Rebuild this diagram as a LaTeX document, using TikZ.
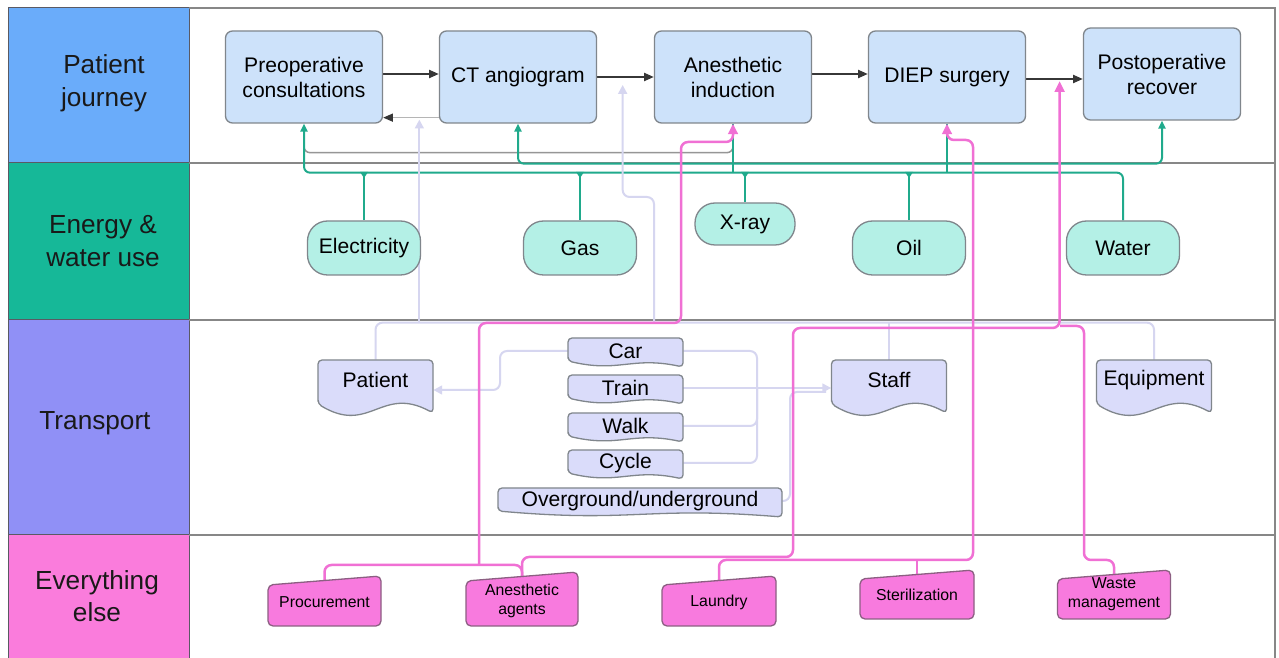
\documentclass[tikz,border=0pt]{standalone}
\usepackage{fontspec}
\setmainfont{Liberation Sans}
\usetikzlibrary{arrows.meta,calc}
\newdimen\pxu \pxu=0.02cm
\pgfdeclarelayer{back}\pgfdeclarelayer{lines}
\pgfsetlayers{back,lines,main}
\definecolor{pjc}{RGB}{106,172,250}
\definecolor{enc}{RGB}{22,184,152}
\definecolor{trc}{RGB}{144,144,246}
\definecolor{eec}{RGB}{250,124,220}
\definecolor{jfill}{RGB}{205,226,250}
\definecolor{efill}{RGB}{180,240,230}
\definecolor{tfill}{RGB}{218,220,250}
\definecolor{pfill}{RGB}{248,122,222}
\definecolor{boxborder}{RGB}{128,134,140}
\definecolor{pborder}{RGB}{140,95,130}
\definecolor{tealline}{RGB}{32,170,140}
\definecolor{pinkline}{RGB}{240,112,212}
\definecolor{lavline}{RGB}{214,214,240}
\definecolor{grayline}{RGB}{150,150,150}
\definecolor{darkline}{RGB}{55,55,55}
\definecolor{rowline}{RGB}{135,135,135}
\definecolor{cellborder}{RGB}{90,90,100}
\newcommand\mylabfont{\fontsize{14.9}{18.5}\selectfont}
\newcommand\mynodefont{\fontsize{12}{14.2}\selectfont}
\newcommand\mypinkfont{\fontsize{9}{10.8}\selectfont}
\tikzset{
  cellbox/.style={draw=cellborder, line width=1\pxu},
  lab/.style={font=\mylabfont, align=center, text=black!90, inner sep=0pt},
  journey/.style={draw=boxborder, fill=jfill, rounded corners=7\pxu, line width=1.3\pxu,
    minimum width=157\pxu, minimum height=92\pxu, align=center, font=\mynodefont, inner sep=0pt},
  energy/.style={draw=boxborder, fill=efill, rounded corners=20\pxu, line width=1.3\pxu,
    minimum width=113\pxu, minimum height=54\pxu, font=\mynodefont, inner sep=0pt},
  docshape/.style={draw=boxborder, fill=tfill, line width=1.3\pxu, rounded corners=4\pxu},
  doctext/.style={inner sep=0pt, font=\mynodefont},
  pinkshape/.style={draw=pborder, fill=pfill, line width=1.3\pxu, rounded corners=5\pxu},
  pinktext/.style={inner sep=0pt, align=center, font=\mypinkfont},
  tl/.style={draw=tealline, line width=2\pxu, rounded corners=6\pxu},
  pl/.style={draw=pinkline, line width=2.5\pxu, rounded corners=7\pxu},
  lv/.style={draw=lavline, line width=2\pxu, rounded corners=7\pxu},
  gl/.style={draw=grayline, line width=1.5\pxu, rounded corners=6\pxu},
  ttip/.tip={Triangle[length=4.5pt,width=4pt,color=tealline]},
  ptip/.tip={Triangle[length=6pt,width=5.5pt,color=pinkline]},
  ltip/.tip={Triangle[length=5pt,width=5pt,color=lavline]},
  dtip/.tip={Triangle[length=5.5pt,width=4.5pt,color=darkline]},
  flow/.style={draw=darkline, line width=2\pxu, -dtip},
  row/.style={draw=rowline, line width=2\pxu},
}
\newcommand\bigdoc[4]{%
  \path[docshape] ({#2-57.5},{#3+24}) -- ({#2-57.5},{#3-20}) -- ({#2+57.5},{#3-20}) -- ({#2+57.5},{#3+33})
     .. controls ({#2+6},{#3+5}) and ({#2-6},{#3+55}) .. ({#2-57.5},{#3+24}) -- cycle;
  \node[doctext, minimum width=115\pxu, minimum height=40\pxu] (#1) at (#2,#3) {#4};}
\newcommand\modedoc[5]{%
  \path[docshape] ({#2-#4/2},{#3+10}) -- ({#2-#4/2},{#3-13}) -- ({#2+#4/2},{#3-13}) -- ({#2+#4/2},{#3+16})
     .. controls ({#2+6},{#3+5}) and ({#2-6},{#3+22}) .. ({#2-#4/2},{#3+10}) -- cycle;
  \node[doctext, minimum width=#4\pxu, minimum height=26\pxu] (#1) at (#2,#3) {#5};}
% name, cx, cy, w, top(right), bottom, text
\newcommand\pinknode[7]{%
  \path[pinkshape] ({#2-#4/2},{#5+9}) -- ({#2+#4/2},{#5}) -- ({#2+#4/2},{#6}) -- ({#2-#4/2},{#6}) -- cycle;
  \node[pinktext, minimum width=#4\pxu, minimum height={2*(#3-#5-5)*\pxu}] (#1) at (#2,#3) {#7};}
\begin{document}
\begin{tikzpicture}[x=0.02cm, y=-0.02cm]
\useasboundingbox (0,0) rectangle (1279,658);
\begin{pgfonlayer}{back}
  \fill[white] (0,0) rectangle (1279,658);
  \path[fill=pjc, cellbox] (8,8) rectangle (189,163);
  \path[fill=enc, cellbox] (8,163) rectangle (189,320);
  \path[fill=trc, cellbox] (8,320) rectangle (189,535);
  \path[fill=eec, cellbox] (8,535) rectangle (189,662);
  \draw[row] (189,8) -- (1275,8) -- (1275,662);
  \draw[row] (189,163) -- (1275,163);
  \draw[row] (189,320) -- (1275,320);
  \draw[row] (189,535) -- (1275,535);
\end{pgfonlayer}
% row labels
\node[lab] (labA) at (104,83) {Patient\\journey};
\node[lab] (labB) at (103,241) {Energy \&\\water use};
\node[lab] (labC) at (95,423) {Transport};
\node[lab] (labD) at (97,596) {Everything\\else};
% patient journey
\node[journey] (preop) at (304,77) {Preoperative\\consultations};
\node[journey] (ct) at (518,77) {CT angiogram};
\node[journey] (anes) at (733,77) {Anesthetic\\induction};
\node[journey] (diep) at (947,77) {DIEP surgery};
\node[journey] (postop) at (1162,74) {Postoperative\\recover};
% energy
\node[energy] (elec) at (364,248) {Electricity};
\node[energy] (gas) at (580,248) {Gas};
\node[energy, minimum width=100\pxu, minimum height=42\pxu] (xray) at (745,224) {X-ray};
\node[energy] (oil) at (909,248) {Oil};
\node[energy] (water) at (1123,248) {Water};
% transport
\bigdoc{patient}{375.5}{380}{Patient}
\bigdoc{staff}{889}{380}{Staff}
\bigdoc{equip}{1154}{380}{Equipment}
\modedoc{car}{625.5}{351}{115}{Car}
\modedoc{train}{625.5}{388}{115}{Train}
\modedoc{walk}{625.5}{426}{115}{Walk}
\modedoc{cycle}{625.5}{463}{115}{Cycle}
\modedoc{over}{640}{501}{284}{Overground/underground}
% everything else
\pinknode{proc}{324.5}{602}{113}{576}{626}{Procurement}
\pinknode{agents}{522}{601}{112}{572}{626}{Anesthetic\\agents}
\pinknode{laundry}{719}{602}{114}{576}{626}{Laundry}
\pinknode{steril}{917}{595}{114}{570}{619}{Sterilization}
\pinknode{waste}{1114}{594}{113}{570}{619}{Waste\\management}
\coordinate (busL) at (0,172);
\coordinate (busT) at (0,323);
\begin{pgfonlayer}{lines}
  % gray link
  \draw[gl] ([yshift=-17\pxu]preop.south) |- ([yshift=-29\pxu]anes.south) -- ([yshift=-17\pxu]anes.south);
  % teal
  \draw[tl, ttip-] (preop.south) -- ++(0,49) -| (water.north);
  \draw[tl, ttip-ttip] (ct.south) -- ++(0,40) -| (postop.south);
  \foreach \n in {elec,gas,oil,xray} {
    \draw[tl] (\n.north) -- (\n.north |- busL);
    \fill[tealline] ($(\n.north |- busL)+(-4,0)$) -- ($(\n.north |- busL)+(4,0)$) -- ($(\n.north |- busL)+(0,6)$) -- cycle;
  }
  \draw[tl] (anes.south) -- (anes.south |- busL);
  \draw[tl] (diep.south) -- (diep.south |- busL);
  % lavender
  \draw[lv] (patient.north) -- ++(0,-37) -| (equip.north);
  \draw[lv] (staff.north) -- (staff.north |- busT);
  \coordinate (lvA) at ($(preop.south east)!0.65!(ct.south west)+(0,-4)$);
  \draw[lv, -ltip] (lvA |- busT) -- (lvA);
  \coordinate (lvB) at ($(ct.east)!0.45!(anes.west)+(0,8)$);
  \draw[lv, -ltip] (654,323) |- (lvB |- 0,197) -- (lvB);
  \draw[lv, -ltip] (car.west) -- (500,351) -- (500,390) -- ([yshift=-10\pxu]patient.east);
  \draw[lv] (car.east) -| (757,388);
  \draw[lv] (walk.east) -| (757,388);
  \draw[lv] (cycle.east) -| (757,388);
  \draw[lv, -ltip] (train.east) -- (train.east -| staff.west);
  \draw[lv] (over.east) -| (790,392) -- (826,392);
  % pink
  \coordinate (jA) at (479,565);
  \draw[pl] (proc.north) |- (jA) -| (agents.north);
  \draw[pl, -ptip] (jA) |- (681,323) |- (733,142) -- (anes.south);
  \coordinate (tipB) at ($(diep.east)!0.59!(postop.west)+(0,6)$);
  \draw[pl, -ptip] (agents.north) |- (793,557) -- (793,328) -| (tipB);
  \draw[pl, -ptip] (laundry.north) |- (973,560) -- (973,140) -| (diep.south);
  \draw[pl] (steril.north) -- (steril.north |- 0,560);
  \draw[pl] (waste.north) |- (1084,560) -- (1084,326) -- (1060,326);
  % journey flow
  \draw[flow] ([yshift=3\pxu]preop.east) -- ([yshift=3\pxu]preop.east -| ct.west);
  \draw[flow] (ct.east) -- (anes.west);
  \draw[flow] ([yshift=3\pxu]anes.east) -- ([yshift=3\pxu]anes.east -| diep.west);
  \draw[flow] ([yshift=-2\pxu]diep.east) -- ([yshift=-2\pxu]diep.east -| postop.west);
  \draw[draw=grayline!70, line width=1.5\pxu, -dtip] ([yshift=6\pxu]ct.south west) -- ([yshift=6\pxu]preop.south east);
\end{pgfonlayer}
\end{tikzpicture}
\end{document}
